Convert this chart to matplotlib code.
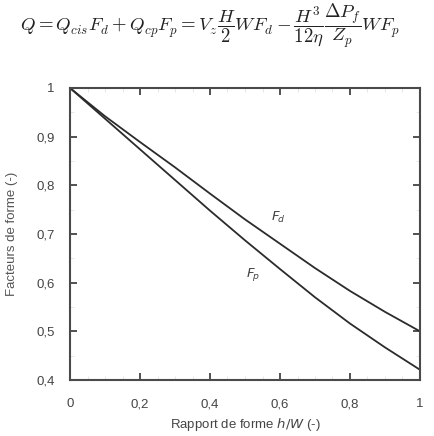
import matplotlib
matplotlib.use("Agg")
import matplotlib.pyplot as plt
from matplotlib.ticker import FixedLocator, MultipleLocator

# values
ratio_hw = [0.0, 0.1, 0.2, 0.3, 0.4, 0.5, 0.6, 0.7, 0.8, 0.9, 1.0]
f_d = [1.0, 0.942, 0.889, 0.837, 0.783, 0.730, 0.680, 0.630, 0.583, 0.540, 0.500]
f_p = [1.0, 0.937, 0.874, 0.811, 0.748, 0.687, 0.628, 0.570, 0.516, 0.467, 0.421]

x_ticks = [0, 0.2, 0.4, 0.6, 0.8, 1.0]
x_labels = ["0", "0,2", "0,4", "0,6", "0,8", "1"]
y_ticks = [0.4, 0.5, 0.6, 0.7, 0.8, 0.9, 1.0]
y_labels = ["0,4", "0,5", "0,6", "0,7", "0,8", "0,9", "1"]

plt.rcParams['font.family'] = ['Liberation Sans', 'DejaVu Sans']
plt.rcParams['mathtext.fontset'] = 'cm'

fig = plt.figure(figsize=(4.34, 4.36), dpi=100)
ax = fig.add_axes([70 / 434, 1 - 380 / 436, 350 / 434, 292 / 436])

line_col = '#2b2b2b'
ax.plot(ratio_hw, f_d, color=line_col, lw=1.3)
ax.plot(ratio_hw, f_p, color=line_col, lw=1.3)

ax.text(0.574, 0.726, r'$\mathit{F}_{\!d}$', fontsize=9.5, color='#444444',
        math_fontfamily='dejavusans')
ax.text(0.502, 0.612, r'$\mathit{F}_{\!p}$', fontsize=9.5, color='#444444',
        math_fontfamily='dejavusans')

ax.set_xlim(0, 1)
ax.set_ylim(0.4, 1)
ax.xaxis.set_major_locator(FixedLocator(x_ticks))
ax.yaxis.set_major_locator(FixedLocator(y_ticks))
ax.set_xticklabels(x_labels)
ax.set_yticklabels(y_labels)
ax.xaxis.set_minor_locator(MultipleLocator(0.05))
ax.yaxis.set_minor_locator(MultipleLocator(0.05))

for s in ax.spines.values():
    s.set_color('#4a4a4a')
    s.set_linewidth(1.5)
ax.tick_params(which='major', direction='in', length=5, width=1.2,
               color='#333333', top=True, right=True, labelsize=9.5,
               labelcolor='#444444')
ax.tick_params(axis='x', which='major', pad=13)
ax.tick_params(axis='y', which='major', pad=11)
ax.tick_params(which='minor', direction='in', length=3, width=0.5,
               color='#dddddd', top=True, right=True)

ax.set_xlabel(r'Rapport de forme $\mathit{h/W}$ (-)', fontsize=9.5,
              color='#444444', labelpad=4)
ax.xaxis.label.set_math_fontfamily('dejavusans')
fig.text(12 / 434, 0.5 - (234 - 218) / 436, 'Facteurs de forme (-)', rotation=90,
         fontsize=9.5, color='#555555', ha='center', va='center')

fig.text(0.485, 1 - 25 / 436,
         r'$Q = Q_{cis}F_d + Q_{cp}F_p = V_z\dfrac{H}{2}WF_d - \dfrac{H^3}{12\eta}\dfrac{\Delta P_f}{Z_p}WF_p$',
         fontsize=13.5, ha='center', va='center', color='#222222')

fig.savefig('out.png', dpi=100)
